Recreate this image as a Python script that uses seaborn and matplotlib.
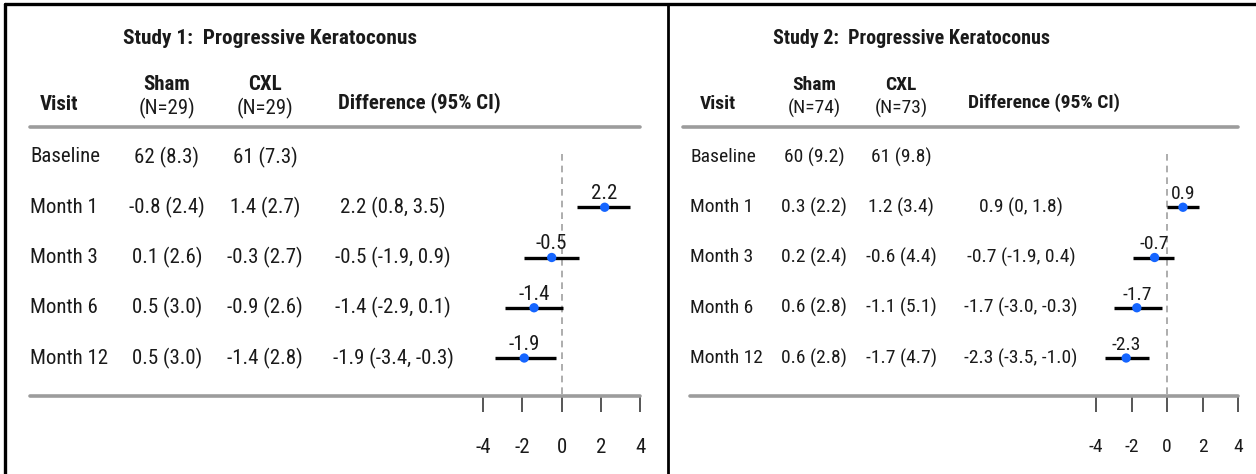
import pandas as pd
import seaborn as sns
import matplotlib.pyplot as plt
from matplotlib import font_manager, transforms
from matplotlib.lines import Line2D

# -------- DATA --------
visits = ["Baseline", "Month 1", "Month 3", "Month 6", "Month 12"]
x_ticks = [-4, -2, 0, 2, 4]

s1_title = "Study 1:  Progressive Keratoconus"
s1_n = [29, 29]
s1_sham = ["62 (8.3)", "-0.8 (2.4)", "0.1 (2.6)", "0.5 (3.0)", "0.5 (3.0)"]
s1_cxl = ["61 (7.3)", "1.4 (2.7)", "-0.3 (2.7)", "-0.9 (2.6)", "-1.4 (2.8)"]
s1_diff = [2.2, -0.5, -1.4, -1.9]
s1_lo = [0.8, -1.9, -2.9, -3.4]
s1_hi = [3.5, 0.9, 0.1, -0.3]

s2_title = "Study 2:  Progressive Keratoconus"
s2_n = [74, 73]
s2_sham = ["60 (9.2)", "0.3 (2.2)", "0.2 (2.4)", "0.6 (2.8)", "0.6 (2.8)"]
s2_cxl = ["61 (9.8)", "1.2 (3.4)", "-0.6 (4.4)", "-1.1 (5.1)", "-1.7 (4.7)"]
s2_diff = [0.9, -0.7, -1.7, -2.3]
s2_lo = [0, -1.9, -3.0, -3.5]
s2_hi = [1.8, 0.4, -0.3, -1.0]

# -------- STYLE --------
sns.set_theme(style="white")
avail = {f.name for f in font_manager.fontManager.ttflist}
narrow = next((n for n in ["Liberation Sans Narrow", "Arial Narrow", "Roboto Condensed"]
               if n in avail), None)
if narrow:
    plt.rcParams["font.family"] = [narrow, "DejaVu Sans"]
    base = 15
else:
    plt.rcParams["font.family"] = ["Liberation Sans", "DejaVu Sans"]
    base = 13

W, H = 1256, 474
TXT = "#1a1a1a"
GRAY = "#9c9c9c"


def fx(px):
    return px / W


def fy(py):
    return 1 - py / H


def fmt(v):
    return "0" if v == 0 else f"{v:.1f}"


fig = plt.figure(figsize=(W / 100, H / 100), dpi=100)

panels = [
    dict(title=s1_title, n=s1_n, sham=s1_sham, cxl=s1_cxl, diff=s1_diff, lo=s1_lo, hi=s1_hi,
         x_title=123, x_visit=40, x_sham=167, x_cxl=265, x_dhead=338, x_label=30, x_dval=393,
         ax_left=483, ax_right=640, line_left=30, head_left=30, fs=base, tfs=base + 0.3),
    dict(title=s2_title, n=s2_n, sham=s2_sham, cxl=s2_cxl, diff=s2_diff, lo=s2_lo, hi=s2_hi,
         x_title=773, x_visit=700, x_sham=814, x_cxl=901, x_dhead=968, x_label=690, x_dval=1021,
         ax_left=1096, ax_right=1238, line_left=690, head_left=683, fs=base - 1, tfs=base - 0.6),
]

row_top, row_step = 157, 50.25
ax_top, ax_bottom = 130, 396

for p in panels:
    fs = p["fs"]
    ax = fig.add_axes([fx(p["ax_left"]), fy(ax_bottom),
                       fx(p["ax_right"] - p["ax_left"]), (ax_bottom - ax_top) / H])
    ax.set_facecolor("none")

    df = pd.DataFrame({
        "visit": visits[1:],
        "row": list(range(1, len(visits))),
        "diff": p["diff"],
        "lo": p["lo"],
        "hi": p["hi"],
    })

    ymax = (ax_bottom - row_top) / row_step
    ymin = (ax_top - row_top) / row_step
    ax.vlines(0, -0.05, ymax, colors="#a0a0a0", linestyles=(0, (4, 3)), lw=1.2)
    ax.hlines(df["row"], df["lo"], df["hi"], colors="black", lw=2.4, zorder=2)
    sns.scatterplot(data=df, x="diff", y="row", ax=ax, color="#1565ff",
                    s=45, edgecolor="none", zorder=3, clip_on=False)
    for _, r in df.iterrows():
        ax.annotate(fmt(r["diff"]), (r["diff"], r["row"]), xytext=(0, 3),
                    textcoords="offset points", ha="center", va="bottom",
                    fontsize=fs, color=TXT)

    ax.set_xlim(-4, 4)
    ax.set_ylim(ymax, ymin)
    ax.set_xticks(x_ticks)
    ax.set_xticklabels([str(t) for t in x_ticks])
    ax.set_yticks([])
    ax.set_xlabel("")
    ax.set_ylabel("")
    ax.tick_params(axis="x", bottom=True, direction="out", length=11.5, width=1.4,
                   color="#555555", pad=19, labelsize=fs, labelcolor=TXT)
    for s in ax.spines.values():
        s.set_visible(False)

    # table text, rows aligned to the forest axes
    tr = transforms.blended_transform_factory(fig.transFigure, ax.transData)
    for i, v in enumerate(visits):
        ax.text(fx(p["x_label"]), i, v, transform=tr, ha="left", va="center",
                fontsize=fs, color=TXT)
        ax.text(fx(p["x_sham"]), i, p["sham"][i], transform=tr, ha="center",
                va="center", fontsize=fs, color=TXT)
        ax.text(fx(p["x_cxl"]), i, p["cxl"][i], transform=tr, ha="center",
                va="center", fontsize=fs, color=TXT)
    for j in range(len(p["diff"])):
        txt = f"{fmt(p['diff'][j])} ({fmt(p['lo'][j])}, {fmt(p['hi'][j])})"
        ax.text(fx(p["x_dval"]), j + 1, txt, transform=tr, ha="center",
                va="center", fontsize=fs, color=TXT)

    # headers
    fig.text(fx(p["x_title"]), fy(38), p["title"], ha="left", va="center",
             fontsize=p["tfs"], fontweight="bold", color=TXT)
    fig.text(fx(p["x_visit"]), fy(104), "Visit", ha="left", va="center",
             fontsize=fs, fontweight="bold", color=TXT)
    fig.text(fx(p["x_sham"]), fy(85), "Sham", ha="center", va="center",
             fontsize=fs, fontweight="bold", color=TXT)
    fig.text(fx(p["x_sham"]), fy(108), f"(N={p['n'][0]})", ha="center", va="center",
             fontsize=fs, color=TXT)
    fig.text(fx(p["x_cxl"]), fy(85), "CXL", ha="center", va="center",
             fontsize=fs, fontweight="bold", color=TXT)
    fig.text(fx(p["x_cxl"]), fy(108), f"(N={p['n'][1]})", ha="center", va="center",
             fontsize=fs, color=TXT)
    fig.text(fx(p["x_dhead"]), fy(103), "Difference (95% CI)", ha="left", va="center",
             fontsize=fs, fontweight="bold", color=TXT)

    # grey rules
    fig.add_artist(Line2D([fx(p["head_left"]), fx(p["ax_right"])], [fy(127)] * 2,
                          color=GRAY, lw=2.6))
    fig.add_artist(Line2D([fx(p["line_left"]), fx(p["ax_right"])], [fy(396)] * 2,
                          color=GRAY, lw=2.6))

# panel borders
fig.add_artist(Line2D([fx(5), 1], [fy(4)] * 2, color="black", lw=2.4))
fig.add_artist(Line2D([fx(5), fx(5)], [0, fy(4)], color="black", lw=2.4))
fig.add_artist(Line2D([fx(668), fx(668)], [0, fy(4)], color="black", lw=2.0))

fig.savefig("out.png", dpi=100, facecolor="white")
